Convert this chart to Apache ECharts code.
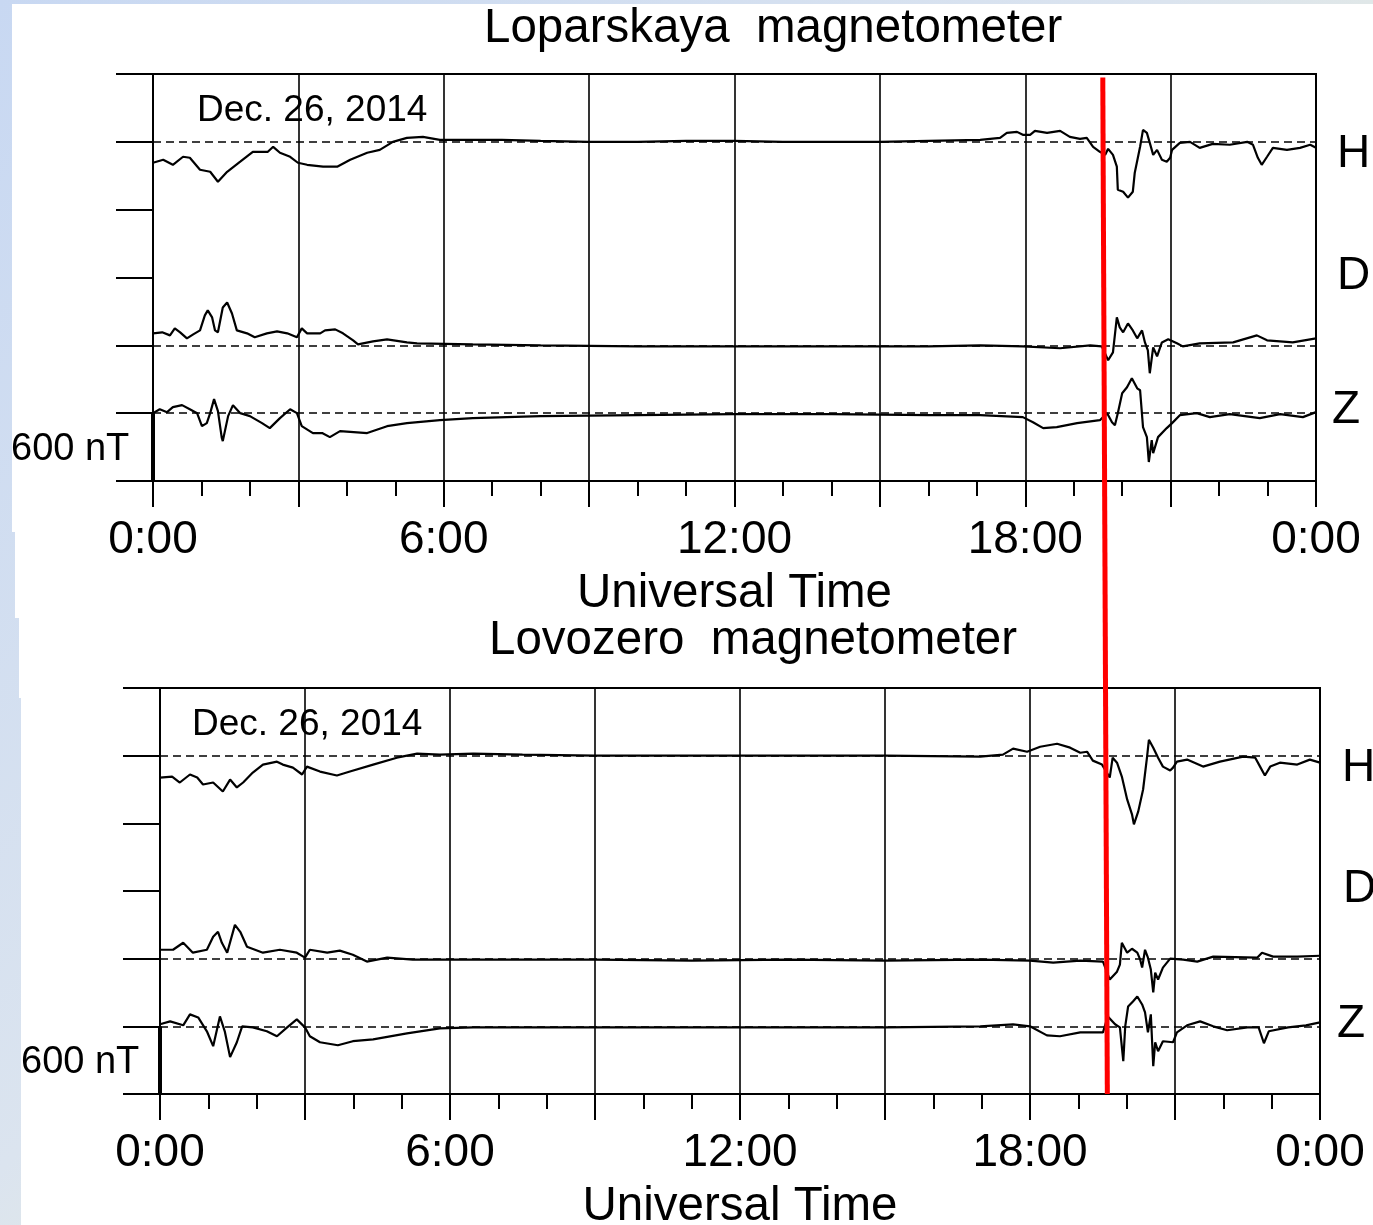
<!DOCTYPE html>
<html>
<head>
<meta charset="utf-8">
<title>Loparskaya / Lovozero magnetometers</title>
<script src="https://cdn.jsdelivr.net/npm/echarts@6/dist/echarts.min.js"></script>
<style>
  html, body { margin: 0; padding: 0; }
  body {
    width: 1373px; height: 1225px; position: relative; overflow: hidden;
    background: linear-gradient(135deg, #c8d8f2 0%, #dbe4ef 45%, #eef0d4 75%, #f4f2cc 100%);
  }
  .paper { position: absolute; background: #fff; right: 0; }
  #chart { position: absolute; left: 0; top: 0; width: 1373px; height: 1225px; }
</style>
</head>
<body>
<div class="paper" style="left:12px;top:4px;height:528px"></div>
<div class="paper" style="left:15px;top:532px;height:86px"></div>
<div class="paper" style="left:19px;top:618px;height:80px"></div>
<div class="paper" style="left:21px;top:698px;bottom:0"></div>
<div id="chart"></div>
<script>
// Dec. 26, 2014 - [UT hour, deviation in nT from the component's baseline]
const lopH = [[0,-185],[0.21,-159],[0.41,-203],[0.62,-132],[0.76,-141],[0.97,-247],[1.18,-265],[1.34,-353],[1.53,-265],[1.80,-176],
  [2.06,-88],[2.37,-88],[2.48,-44],[2.62,-97],[2.83,-132],[2.99,-185],[3.18,-203],[3.51,-220],[3.80,-220],[4.07,-159],[4.42,-97],
  [4.68,-71],[4.95,0],[5.24,35],[5.57,44],[5.92,18],[6.60,18],[7.2,18],[8,9],[9,0],[10,0],[11,9],[12,9],[13,0],[14,0],[15,0],[16,9],
  [17.07,18],[17.48,35],[17.62,79],[17.83,88],[17.95,62],[18.10,62],[18.20,97],[18.45,79],[18.72,97],[18.92,44],[19.13,26],[19.27,35],
  [19.40,-44],[19.54,-88],[19.65,-115],[19.71,-62],[19.81,-115],[19.89,-220],[19.91,-423],[20.02,-441],[20.12,-494],[20.22,-441],
  [20.26,-273],[20.37,-44],[20.43,106],[20.51,79],[20.57,-9],[20.64,-115],[20.72,-71],[20.82,-159],[20.92,-176],[20.99,-141],
  [21.03,-71],[21.19,-9],[21.40,0],[21.60,-53],[21.87,-18],[22.22,-26],[22.58,0],[22.70,-26],[22.80,-141],[22.88,-203],[22.99,-132],
  [23.11,-53],[23.40,-71],[23.67,-53],[23.88,-26],[24,-53]];
const lopD = [[0,106],[0.19,115],[0.35,88],[0.45,150],[0.56,115],[0.70,62],[0.83,97],[0.97,132],[1.07,265],[1.13,309],[1.22,247],
  [1.28,132],[1.34,115],[1.44,335],[1.53,379],[1.63,282],[1.73,132],[1.94,106],[2.10,71],[2.35,106],[2.56,124],[2.77,106],[2.97,71],
  [3.07,150],[3.18,106],[3.45,106],[3.55,132],[3.76,141],[3.92,106],[4.13,44],[4.23,9],[4.54,35],[4.83,53],[5.24,26],[5.45,18],
  [6.60,9],[8,0],[10,-9],[12,-9],[14,-9],[16,-9],[17.07,0],[17.95,-9],[18.72,-26],[19.34,0],[19.58,-9],[19.71,-132],[19.81,-62],
  [19.89,247],[19.95,159],[20.02,115],[20.12,194],[20.22,132],[20.31,62],[20.41,132],[20.47,26],[20.53,-44],[20.57,-247],[20.64,-18],
  [20.72,-97],[20.82,26],[20.95,53],[21.13,18],[21.25,-9],[21.60,18],[22.29,26],[22.78,88],[22.99,44],[23.52,26],[24,62]];
const lopZ = [[0,0],[0.14,35],[0.29,9],[0.41,53],[0.60,71],[0.76,35],[0.91,0],[1.01,-115],[1.11,-88],[1.18,0],[1.26,124],[1.34,18],
  [1.42,-220],[1.44,-247],[1.55,-26],[1.65,71],[1.80,0],[2.00,-26],[2.25,-88],[2.41,-132],[2.62,-44],[2.83,35],[2.97,0],[3.07,-115],
  [3.30,-176],[3.49,-176],[3.65,-212],[3.86,-159],[4.42,-176],[4.83,-115],[5.24,-88],[5.92,-62],[6.60,-44],[8,-26],[10,-18],[12,-9],
  [14,-9],[16,-18],[17.07,-18],[17.95,-35],[18.16,-80],[18.37,-132],[18.65,-124],[19.07,-88],[19.54,-62],[19.69,0],[19.79,-80],
  [19.85,-106],[19.91,0],[20.0,176],[20.1,229],[20.2,309],[20.31,220],[20.37,203],[20.43,-124],[20.51,-212],[20.55,-432],[20.61,-238],
  [20.64,-353],[20.74,-212],[20.92,-132],[21.03,-88],[21.19,-18],[21.54,0],[21.81,-35],[22.22,-9],[22.84,-44],[23.26,-9],[23.73,-35],[24,9]];

const lovH = [[0,-194],[0.25,-185],[0.41,-238],[0.62,-167],[0.77,-194],[0.89,-256],[1.10,-238],[1.30,-318],[1.45,-212],[1.59,-282],
  [1.72,-238],[1.92,-150],[2.13,-79],[2.42,-53],[2.54,-79],[2.75,-106],[2.94,-167],[3.04,-97],[3.31,-141],[3.66,-176],[3.93,-141],
  [4.41,-79],[4.90,-18],[5.32,18],[5.79,9],[6.48,18],[7.5,9],[9,0],[11,0],[13,0],[15,0],[16.97,-9],[17.44,9],[17.65,62],[17.94,35],
  [18.21,79],[18.56,106],[18.83,71],[19.04,26],[19.18,35],[19.30,-44],[19.49,-79],[19.65,-194],[19.71,-18],[19.80,-62],[19.90,-185],
  [20.01,-388],[20.11,-520],[20.15,-609],[20.24,-494],[20.34,-300],[20.42,-18],[20.46,141],[20.55,71],[20.65,-18],[20.75,-97],
  [20.90,-132],[20.96,-106],[21.04,-53],[21.25,-35],[21.58,-97],[21.93,-53],[22.41,-9],[22.66,-18],[22.76,-97],[22.86,-176],
  [22.97,-97],[23.17,-62],[23.53,-79],[23.79,-35],[24,-62]];
const lovD = [[0,79],[0.27,79],[0.48,141],[0.68,53],[0.97,79],[1.10,194],[1.20,238],[1.28,141],[1.39,53],[1.55,300],[1.66,238],
  [1.80,106],[2.13,53],[2.48,79],[2.83,53],[3.0,9],[3.10,79],[3.46,53],[3.72,71],[3.99,35],[4.28,-26],[4.70,9],[5.23,-9],[6.48,-9],
  [7.5,-9],[9,-9],[11,-18],[13,-9],[15,-18],[16.97,-9],[18.0,-18],[18.48,-35],[19.04,-18],[19.51,-26],[19.65,-185],[19.80,-115],
  [19.86,-53],[19.90,141],[20.01,53],[20.11,88],[20.22,53],[20.28,-9],[20.32,-79],[20.38,79],[20.44,9],[20.50,-97],[20.55,-300],
  [20.59,-124],[20.65,-185],[20.75,-79],[20.90,0],[21.17,-9],[21.46,-26],[21.79,18],[22.70,9],[22.80,53],[23.03,18],[23.53,18],[24,26]];
const lovZ = [[0,18],[0.21,44],[0.48,9],[0.62,106],[0.79,79],[0.97,-44],[1.10,-176],[1.24,88],[1.34,-44],[1.45,-273],[1.59,-141],
  [1.70,0],[1.92,-9],[2.21,-44],[2.42,-88],[2.63,-9],[2.83,62],[3.0,-9],[3.10,-88],[3.31,-141],[3.68,-168],[3.99,-132],[4.41,-115],
  [5.11,-62],[5.79,-18],[6.48,-9],[7.5,-9],[9,-9],[11,-9],[13,-9],[15,-9],[16.97,0],[17.65,18],[18.0,0],[18.35,-80],[18.62,-88],
  [19.04,-53],[19.51,-53],[19.61,88],[19.76,18],[19.86,-9],[19.93,-309],[19.97,0],[20.03,176],[20.13,220],[20.22,265],[20.32,194],
  [20.38,124],[20.44,-53],[20.50,106],[20.55,-353],[20.59,-141],[20.65,-220],[20.75,-132],[20.96,-141],[21.04,-53],[21.25,9],
  [21.52,44],[21.79,0],[22.08,-35],[22.50,-9],[22.73,-9],[22.84,-150],[22.94,-44],[23.34,-9],[23.71,9],[24,35]];

const components = ['H', 'D', 'Z'];
const baselines = [3000, 1200, 600];     // nT position of each dashed zero line
const scaleBar = [[0, 0], [0, 600]];     // 600 nT bar
const onsetHour = 19.6;                  // red marker

const panels = [
  { title: 'Loparskaya  magnetometer', traces: [lopH, lopD, lopZ] },
  { title: 'Lovozero  magnetometer', traces: [lovH, lovD, lovZ] }
];

const FONT = '"Liberation Sans", Arial, Helvetica, sans-serif';
const chart = echarts.init(document.getElementById('chart'), null, { renderer: 'canvas' });

function xAxisFor(i) {
  return {
    gridIndex: i, type: 'value', min: 0, max: 24, interval: 3,
    axisLine: { show: true, lineStyle: { color: '#000', width: 2 } },
    axisTick: { show: true, length: 26, lineStyle: { color: '#000', width: 2 } },
    minorTick: { show: true, splitNumber: 3, length: 15, lineStyle: { color: '#000', width: 2 } },
    splitLine: { show: true, lineStyle: { color: '#000', width: 1.6 } },
    axisLabel: {
      margin: 36, fontSize: 46, color: '#000', fontFamily: FONT,
      formatter: v => (v % 6 === 0 ? (v % 24) + ':00' : '')
    },
    name: 'Universal Time', nameLocation: 'middle', nameGap: 89,
    nameTextStyle: { fontSize: 47.5, color: '#000', fontFamily: FONT }
  };
}

function yAxisFor(i) {
  return {
    gridIndex: i, type: 'value', min: 0, max: 3600, interval: 600,
    axisLine: { show: true, lineStyle: { color: '#000', width: 2 } },
    axisTick: { show: true, length: 37, lineStyle: { color: '#000', width: 2 } },
    axisLabel: { show: false },
    splitLine: { show: false }
  };
}

const series = [];
panels.forEach((p, pi) => {
  p.traces.forEach((tr, ci) => {
    const base = baselines[ci];
    series.push({
      name: p.title + ' ' + components[ci],
      type: 'line', xAxisIndex: pi, yAxisIndex: pi,
      data: tr.map(([t, v]) => [t, v + base]),
      symbol: 'none', showSymbol: false, z: 5,
      lineStyle: { color: '#000', width: 2.2 },
      markLine: {
        silent: true, symbol: ['none', 'none'], label: { show: false },
        lineStyle: { color: '#000', width: 1.5, type: [8, 5] },
        data: [{ yAxis: base }]
      }
    });
  });
  series.push({
    type: 'line', xAxisIndex: pi, yAxisIndex: pi, data: scaleBar,
    symbol: 'none', z: 6, lineStyle: { color: '#000', width: 4 }
  });
});

chart.setOption({
  animation: false,
  textStyle: { fontFamily: FONT },
  grid: [
    { left: 153, top: 74, width: 1163, height: 407, outerBoundsMode: 'none',
      show: true, borderColor: '#000', borderWidth: 2, backgroundColor: 'transparent' },
    { left: 160, top: 688, width: 1160, height: 406, outerBoundsMode: 'none',
      show: true, borderColor: '#000', borderWidth: 2, backgroundColor: 'transparent' }
  ],
  xAxis: [xAxisFor(0), xAxisFor(1)],
  yAxis: [yAxisFor(0), yAxisFor(1)],
  series: series
});

function label(text, x, y, size) {
  return {
    type: 'text', x: x, y: y, z: 50, silent: true,
    style: { text: text, fill: '#000', font: size + 'px ' + FONT, align: 'left', verticalAlign: 'middle' }
  };
}

// red onset line through both panels, placed with the axes
const pTop = chart.convertToPixel({ xAxisIndex: 0, yAxisIndex: 0 }, [onsetHour, 3570]);
const pBot = chart.convertToPixel({ xAxisIndex: 1, yAxisIndex: 1 }, [onsetHour, 0]);

chart.setOption({
  graphic: [
    label(panels[0].title, 484, 29, 47.5),
    label(panels[1].title, 489, 641, 47.5),
    label('Dec. 26, 2014', 197, 111, 37),
    label('Dec. 26, 2014', 192, 725, 37),
    label('600 nT', 11, 450, 38),
    label('600 nT', 21, 1063, 38),
    label(components[0], 1337, 154, 46),
    label(components[1], 1337, 276, 46),
    label(components[2], 1332, 410, 46),
    label(components[0], 1342, 768, 46),
    label(components[1], 1343, 889, 46),
    label(components[2], 1337, 1024, 46),
    {
      type: 'line', z: 100, silent: true,
      shape: { x1: pTop[0], y1: pTop[1], x2: pBot[0], y2: pBot[1] },
      style: { stroke: '#ff0000', lineWidth: 5 }
    }
  ]
});
</script>
</body>
</html>
